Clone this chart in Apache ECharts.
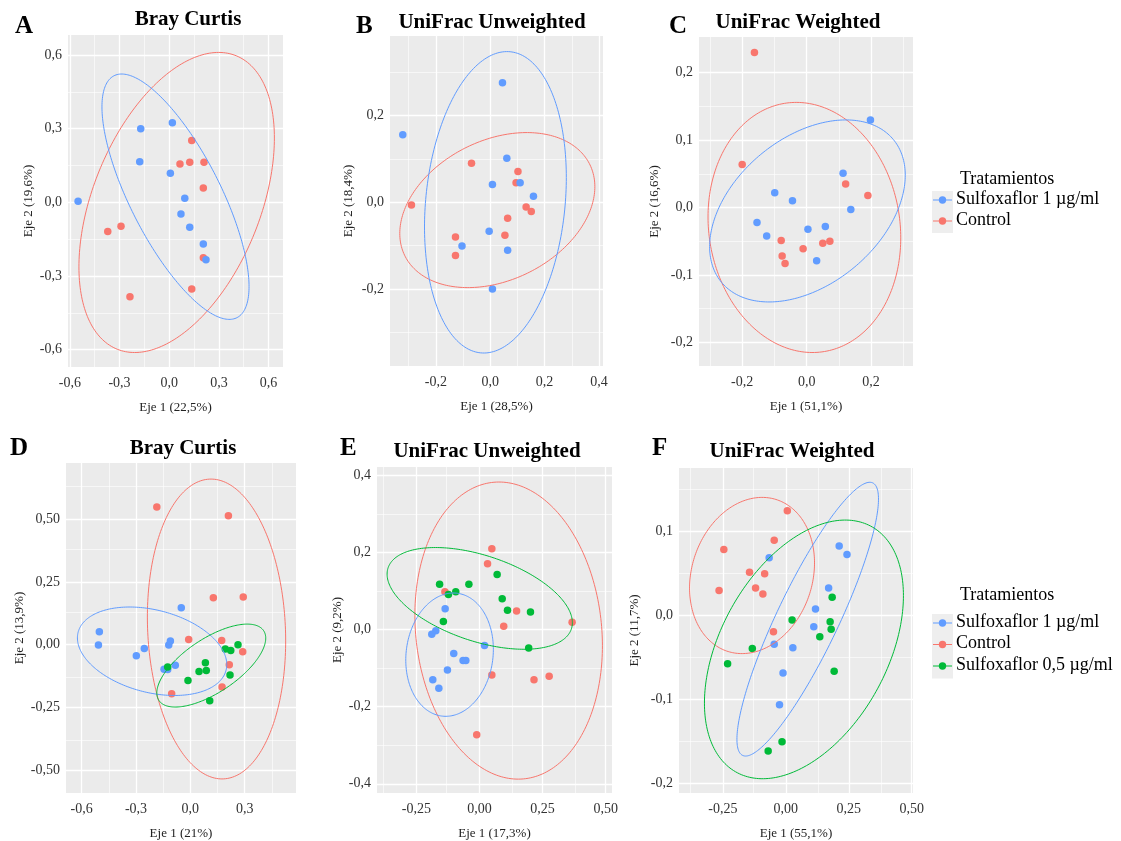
<!DOCTYPE html>
<html>
<head>
<meta charset="utf-8">
<script src="https://cdn.jsdelivr.net/npm/echarts@6/dist/echarts.min.js"></script>
<style>
  html, body { margin: 0; padding: 0; background: #fff; }
  #chart { width: 1121px; height: 841px; }
</style>
</head>
<body>
<div id="chart"></div>
<script>
// ---------- PCoA coordinates: [Eje 1, Eje 2] ----------
// A: Bray Curtis (control vs sulfoxaflor 1 µg/ml)
const a_sulfo1 = [[-0.55,0.004],[-0.172,0.30],[-0.178,0.165],[0.019,0.324],[0.007,0.119],[0.094,0.017],[0.071,-0.047],[0.124,-0.101],[0.206,-0.170],[0.222,-0.234]];
const a_control = [[0.136,0.252],[0.065,0.156],[0.124,0.163],[0.210,0.163],[0.206,0.058],[-0.291,-0.097],[-0.371,-0.119],[0.206,-0.226],[0.136,-0.353],[-0.237,-0.385]];
// B: UniFrac Unweighted
const b_sulfo1 = [[-0.322,0.156],[0.045,0.276],[0.061,0.102],[0.008,0.041],[0.110,0.045],[0.159,0.014],[-0.004,-0.067],[-0.104,-0.101],[0.064,-0.111],[0.008,-0.200]];
const b_control = [[-0.290,-0.006],[-0.069,0.090],[0.102,0.071],[0.095,0.045],[0.132,-0.011],[0.151,-0.021],[0.064,-0.037],[0.054,-0.076],[-0.128,-0.080],[-0.128,-0.123]];
// C: UniFrac Weighted
const c_sulfo1 = [[0.198,0.130],[0.113,0.051],[0.137,-0.003],[-0.099,0.022],[-0.044,0.010],[-0.154,-0.022],[-0.124,-0.042],[0.004,-0.032],[0.058,-0.028],[0.031,-0.079]];
const c_control = [[-0.162,0.230],[-0.200,0.064],[0.121,0.035],[0.190,0.018],[-0.079,-0.049],[-0.076,-0.072],[-0.067,-0.083],[-0.011,-0.061],[0.050,-0.053],[0.072,-0.050]];
// D: Bray Curtis (three groups)
const d_sulfo1 = [[-0.050,0.147],[-0.502,0.052],[-0.507,-0.001],[-0.254,-0.015],[-0.298,-0.044],[-0.110,0.015],[-0.119,-0.001],[-0.083,-0.082],[-0.145,-0.098],[-0.125,-0.099]];
const d_control = [[-0.185,0.548],[0.210,0.513],[0.127,0.187],[0.292,0.190],[-0.009,0.021],[0.173,0.017],[0.289,-0.028],[0.215,-0.080],[0.175,-0.168],[-0.103,-0.195]];
const d_sulfo05 = [[0.263,0.0],[0.193,-0.017],[0.223,-0.023],[0.083,-0.072],[0.048,-0.107],[0.088,-0.103],[0.219,-0.121],[-0.013,-0.142],[-0.125,-0.089],[0.107,-0.223]];
// E: UniFrac Unweighted (three groups)
const e_sulfo1 = [[-0.136,0.054],[-0.173,-0.003],[-0.189,-0.012],[0.020,-0.041],[-0.102,-0.062],[-0.065,-0.080],[-0.054,-0.080],[-0.127,-0.105],[-0.185,-0.130],[-0.161,-0.152]];
const e_control = [[0.049,0.210],[0.032,0.171],[-0.137,0.098],[0.147,0.048],[0.096,0.009],[0.367,0.019],[0.049,-0.118],[0.216,-0.130],[0.276,-0.121],[-0.011,-0.273]];
const e_sulfo05 = [[-0.158,0.118],[-0.042,0.118],[-0.094,0.098],[-0.123,0.091],[0.070,0.143],[0.090,0.080],[0.111,0.050],[0.202,0.046],[-0.143,0.021],[0.195,-0.048]];
// F: UniFrac Weighted (three groups)
const f_sulfo1 = [[-0.066,0.068],[0.212,0.082],[0.243,0.072],[0.170,0.032],[0.118,0.007],[0.111,-0.014],[-0.046,-0.035],[0.028,-0.039],[-0.011,-0.069],[-0.025,-0.107]];
const f_control = [[0.006,0.124],[-0.046,0.089],[-0.246,0.078],[-0.144,0.051],[-0.084,0.049],[-0.120,0.032],[-0.091,0.025],[-0.265,0.029],[-0.049,-0.020]];
const f_sulfo05 = [[0.184,0.021],[0.025,-0.006],[0.176,-0.008],[0.180,-0.017],[0.135,-0.026],[-0.133,-0.040],[-0.231,-0.058],[0.192,-0.067],[-0.015,-0.151],[-0.070,-0.162]];

// ---------- Confidence ellipses: [xmin, xmax, ymin, ymax, y at leftmost point] ----------
const ellA_sulfo1 = [-0.406, 0.482, -0.477, 0.523, 0.389];
const ellA_control = [-0.545, 0.635, -0.612, 0.611, -0.263];
const ellB_sulfo1 = [-0.242, 0.280, -0.348, 0.348, -0.057];
const ellB_control = [-0.333, 0.385, -0.197, 0.161, -0.072];
const ellC_sulfo1 = [-0.301, 0.306, -0.140, 0.130, -0.058];
const ellC_control = [-0.306, 0.292, -0.215, 0.156, -0.014];
const ellD_sulfo1 = [-0.623, 0.201, -0.202, 0.150, 0.027];
const ellD_control = [-0.237, 0.526, -0.534, 0.659, 0.110];
const ellD_sulfo05 = [-0.185, 0.416, -0.248, 0.082, -0.192];
const ellE_sulfo1 = [-0.292, 0.055, -0.225, 0.095, -0.079];
const ellE_control = [-0.256, 0.487, -0.388, 0.383, 0.037];
const ellE_sulfo05 = [-0.366, 0.368, -0.051, 0.213, 0.144];
const ellF_sulfo1 = [-0.194, 0.368, -0.168, 0.158, -0.148];
const ellF_control = [-0.382, 0.114, -0.046, 0.140, 0.032];
const ellF_sulfo05 = [-0.323, 0.467, -0.195, 0.113, -0.105];

// ---------- Axis breaks ----------
const ticksA_x = [-0.6, -0.3, 0, 0.3, 0.6],  minorA_x = [-0.45, -0.15, 0.15, 0.45];
const ticksA_y = [-0.6, -0.3, 0, 0.3, 0.6],  minorA_y = [-0.45, -0.15, 0.15, 0.45];
const ticksB_x = [-0.2, 0, 0.2, 0.4],        minorB_x = [-0.3, -0.1, 0.1, 0.3];
const ticksB_y = [-0.2, 0, 0.2],             minorB_y = [-0.3, -0.1, 0.1, 0.3];
const ticksC_x = [-0.2, 0, 0.2],             minorC_x = [-0.3, -0.1, 0.1, 0.3];
const ticksC_y = [-0.2, -0.1, 0, 0.1, 0.2],  minorC_y = [-0.15, -0.05, 0.05, 0.15];
const ticksD_x = [-0.6, -0.3, 0, 0.3],       minorD_x = [-0.45, -0.15, 0.15, 0.45];
const ticksD_y = [-0.5, -0.25, 0, 0.25, 0.5], minorD_y = [-0.375, -0.125, 0.125, 0.375, 0.625];
const ticksE_x = [-0.25, 0, 0.25, 0.5],      minorE_x = [-0.375, -0.125, 0.125, 0.375];
const ticksE_y = [-0.4, -0.2, 0, 0.2, 0.4],  minorE_y = [-0.3, -0.1, 0.1, 0.3];
const ticksF_x = [-0.25, 0, 0.25, 0.5],      minorF_x = [-0.375, -0.125, 0.125, 0.375];
const ticksF_y = [-0.2, -0.1, 0, 0.1],       minorF_y = [-0.15, -0.05, 0.05, 0.15];

const groupNames = ['Sulfoxaflor 1 µg/ml', 'Control', 'Sulfoxaflor 0,5 µg/ml'];
const COL = { s1: '#619CFF', ctl: '#F8766D', s05: '#00BA38' };
const SERIF = '"Liberation Serif", "DejaVu Serif", serif';

// ---------- Panel layout ----------
const panels = [
  { letter: 'A', title: 'Bray Curtis', box: [68, 35, 215, 332], xr: [-0.611, 0.687], yr: [-0.671, 0.682],
    xt: ticksA_x, xm: minorA_x, yt: ticksA_y, ym: minorA_y, xd: 1, yd: 1, yGap: 33,
    xName: 'Eje 1 (22,5%)', yName: 'Eje 2 (19,6%)',
    groups: [['ctl', a_control, ellA_control], ['s1', a_sulfo1, ellA_sulfo1]] },
  { letter: 'B', title: 'UniFrac Unweighted', box: [390, 36, 213, 330], xr: [-0.369, 0.415], yr: [-0.378, 0.384],
    xt: ticksB_x, xm: minorB_x, yt: ticksB_y, ym: minorB_y, xd: 1, yd: 1, yGap: 35,
    xName: 'Eje 1 (28,5%)', yName: 'Eje 2 (18,4%)',
    groups: [['ctl', b_control, ellB_control], ['s1', b_sulfo1, ellB_sulfo1]] },
  { letter: 'C', title: 'UniFrac Weighted', box: [699, 37, 214, 329], xr: [-0.334, 0.330], yr: [-0.235, 0.253],
    xt: ticksC_x, xm: minorC_x, yt: ticksC_y, ym: minorC_y, xd: 1, yd: 1, yGap: 38,
    xName: 'Eje 1 (51,1%)', yName: 'Eje 2 (16,6%)',
    groups: [['ctl', c_control, ellC_control], ['s1', c_sulfo1, ellC_sulfo1]] },
  { letter: 'D', title: 'Bray Curtis', box: [66, 463, 230, 330], xr: [-0.686, 0.583], yr: [-0.590, 0.723],
    xt: ticksD_x, xm: minorD_x, yt: ticksD_y, ym: minorD_y, xd: 1, yd: 2, yGap: 40,
    xName: 'Eje 1 (21%)', yName: 'Eje 2 (13,9%)',
    groups: [['ctl', d_control, ellD_control], ['s1', d_sulfo1, ellD_sulfo1], ['s05', d_sulfo05, ellD_sulfo05]] },
  { letter: 'E', title: 'UniFrac Unweighted', box: [377, 467, 235, 329], xr: [-0.406, 0.525], yr: [-0.424, 0.422],
    xt: ticksE_x, xm: minorE_x, yt: ticksE_y, ym: minorE_y, xd: 2, yd: 1, yGap: 33,
    xName: 'Eje 1 (17,3%)', yName: 'Eje 2 (9,2%)',
    groups: [['ctl', e_control, ellE_control], ['s1', e_sulfo1, ellE_sulfo1], ['s05', e_sulfo05, ellE_sulfo05]] },
  { letter: 'F', title: 'UniFrac Weighted', box: [679, 468, 234, 330], xr: [-0.424, 0.505], yr: [-0.212, 0.175],
    xt: ticksF_x, xm: minorF_x, yt: ticksF_y, ym: minorF_y, xd: 2, yd: 1, yGap: 38,
    xName: 'Eje 1 (55,1%)', yName: 'Eje 2 (11,7%)',
    groups: [['ctl', f_control, ellF_control], ['s1', f_sulfo1, ellF_sulfo1], ['s05', f_sulfo05, ellF_sulfo05]] }
];
// letter and title positions
const headPos = [
  { lx: 15, ly: 14, tx: 188, ty: 9 },
  { lx: 356, ly: 14, tx: 492, ty: 12 },
  { lx: 669, ly: 14, tx: 798, ty: 12 },
  { lx: 10, ly: 436, tx: 183, ty: 438 },
  { lx: 340, ly: 436, tx: 487, ty: 441 },
  { lx: 652, ly: 436, tx: 792, ty: 441 }
];

const fmt = d => v => v.toFixed(d).replace('.', ',');
const groupLabel = { s1: groupNames[0], ctl: groupNames[1], s05: groupNames[2] };

// Ellipse outline from its bounding values, mapped through the panel's axes
function ellipseSeries(ell, color, gi) {
  const [x0, x1, y0, y1, yl] = ell;
  const cx = (x0 + x1) / 2, cy = (y0 + y1) / 2, W = (x1 - x0) / 2, H = (y1 - y0) / 2;
  const phi = Math.acos(Math.max(-1, Math.min(1, (cy - yl) / H)));
  return {
    type: 'custom', xAxisIndex: gi, yAxisIndex: gi, silent: true, z: 12, clip: false,
    data: [[cx, cy]],
    renderItem: (params, api) => {
      const pts = [];
      for (let i = 0; i <= 240; i++) {
        const t = i / 240 * 2 * Math.PI;
        pts.push(api.coord([cx + W * Math.cos(t), cy + H * Math.cos(t - phi)]));
      }
      return { type: 'polyline', shape: { points: pts }, style: { stroke: color, fill: null, lineWidth: 1 } };
    }
  };
}

const grids = [], xAxes = [], yAxes = [], series = [], titles = [];
panels.forEach((p, i) => {
  grids.push({ left: p.box[0], top: p.box[1], width: p.box[2], height: p.box[3],
    show: true, backgroundColor: '#EBEBEB', borderWidth: 0 });
  const axisCommon = {
    type: 'value', gridIndex: i, axisLine: { show: false }, splitLine: { show: false },
    nameLocation: 'middle',
    nameTextStyle: { fontFamily: SERIF, fontSize: 13, color: '#222' }
  };
  xAxes.push(Object.assign({}, axisCommon, {
    min: p.xr[0], max: p.xr[1], name: p.xName, nameGap: 34,
    axisTick: { show: true, length: 3, customValues: p.xt, lineStyle: { color: '#333', width: 1 } },
    axisLabel: { customValues: p.xt, formatter: fmt(p.xd), fontFamily: SERIF, fontSize: 14, color: '#333', margin: 9 }
  }));
  yAxes.push(Object.assign({}, axisCommon, {
    min: p.yr[0], max: p.yr[1], name: p.yName, nameGap: p.yGap,
    axisTick: { show: true, length: 3, customValues: p.yt, lineStyle: { color: '#333', width: 1 } },
    axisLabel: { customValues: p.yt, formatter: fmt(p.yd), fontFamily: SERIF, fontSize: 14, color: '#333', margin: 6 }
  }));
  // panel grid lines, kept beneath the marks
  const lines = [];
  p.xt.forEach(v => lines.push({ xAxis: v, lineStyle: { width: 1.3 } }));
  p.yt.forEach(v => lines.push({ yAxis: v, lineStyle: { width: 1.3 } }));
  p.xm.forEach(v => lines.push({ xAxis: v, lineStyle: { width: 0.6 } }));
  p.ym.forEach(v => lines.push({ yAxis: v, lineStyle: { width: 0.6 } }));
  series.push({
    type: 'scatter', xAxisIndex: i, yAxisIndex: i, data: [], silent: true, z: 1,
    markLine: { silent: true, z: 1, symbol: ['none', 'none'], label: { show: false }, animation: false,
      lineStyle: { color: '#FFFFFF', type: 'solid', opacity: 1 }, data: lines }
  });
  p.groups.forEach(([key, pts, ell]) => {
    series.push({
      type: 'scatter', name: groupLabel[key], xAxisIndex: i, yAxisIndex: i, data: pts,
      symbol: 'circle', symbolSize: 7.5, z: 10, itemStyle: { color: COL[key], opacity: 1 }
    });
    series.push(ellipseSeries(ell, COL[key], i));
  });
  const h = headPos[i];
  titles.push({ text: p.letter, left: h.lx, top: h.ly, padding: 0,
    textStyle: { fontFamily: SERIF, fontWeight: 'bold', fontSize: 25, color: '#000' } });
  titles.push({ text: p.title, left: h.tx, top: h.ty, textAlign: 'center', padding: 0,
    textStyle: { fontFamily: SERIF, fontWeight: 'bold', fontSize: 21, color: '#000' } });
});

// legend blocks
function legendBlock(x, titleY, firstY, step, keys) {
  const els = [{
    type: 'text', left: x + 28, top: titleY - 10,
    style: { text: 'Tratamientos', font: '18px ' + SERIF, fill: '#000' }
  }, {
    type: 'rect', shape: { x: x, y: firstY - 9, width: 21, height: step * keys.length },
    style: { fill: '#EEEEEE' }
  }];
  keys.forEach((k, j) => {
    const y = firstY + j * step;
    els.push({ type: 'line', shape: { x1: x + 1, y1: y, x2: x + 20, y2: y }, style: { stroke: COL[k], lineWidth: 1 } });
    els.push({ type: 'circle', shape: { cx: x + 10.5, cy: y, r: 3.7 }, style: { fill: COL[k] } });
    els.push({ type: 'text', left: x + 24, top: y - 10, style: { text: groupLabel[k], font: '18px ' + SERIF, fill: '#000' } });
  });
  return els;
}

const chart = echarts.init(document.getElementById('chart'), null, { renderer: 'canvas' });
chart.setOption({
  animation: false,
  backgroundColor: '#FFFFFF',
  title: titles,
  grid: grids,
  xAxis: xAxes,
  yAxis: yAxes,
  series: series,
  graphic: [].concat(
    legendBlock(932, 180, 200, 21, ['s1', 'ctl']),
    legendBlock(932, 596, 623, 21.5, ['s1', 'ctl', 's05'])
  )
});
</script>
</body>
</html>
